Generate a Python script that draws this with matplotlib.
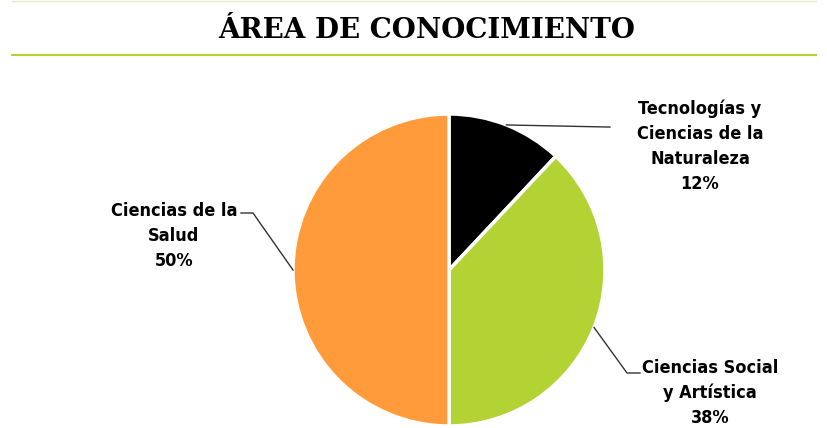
import matplotlib.pyplot as plt
import numpy as np

# datos
categorias = ['Tecnologías y\nCiencias de la\nNaturaleza', 'Ciencias Social\ny Artística', 'Ciencias de la\nSalud']
porcentajes = [12, 38, 50]
colores = ['#000000', '#b3d334', '#ff9b3b']

titulo = 'ÁREA DE CONOCIMIENTO'

fig = plt.figure(figsize=(8.28, 4.28), dpi=100)
ax = fig.add_axes([0, 0, 1, 1])

cx, cy, r = 449, 428 - 270, 156
wedges, _ = ax.pie(porcentajes, colors=colores, startangle=90, counterclock=False,
                   center=(cx, cy), radius=r,
                   wedgeprops=dict(edgecolor='white', linewidth=2.5))
ax.set_xlim(0, 828)
ax.set_ylim(0, 428)
ax.axis('off')

fuente = ['DejaVu Sans']

# posiciones de etiquetas (texto) y codo de la línea guía
etiquetas_xy = [(700, 428 - 146), (710, 428 - 393), (174, 428 - 236)]
codos = [(607, 428 - 127), (627, 428 - 373), (253, 428 - 213)]
finales = [(610, 428 - 127), (640, 428 - 373), (241, 428 - 213)]

for w, cat, p, txy, codo, fin in zip(wedges, categorias, porcentajes, etiquetas_xy, codos, finales):
    ang = np.deg2rad((w.theta1 + w.theta2) / 2)
    px, py = cx + r * np.cos(ang), cy + r * np.sin(ang)
    ax.plot([px, codo[0], fin[0]], [py, codo[1], fin[1]], color='#333333', lw=1)
    ax.text(txy[0], txy[1], f'{cat}\n{p}%', ha='center', va='center',
            fontsize=13, fontweight='bold', fontstretch='condensed',
            family=fuente, linespacing=1.5)

# título
fig.text(427 / 828, 1 - 31 / 428, titulo, ha='center', va='center',
         fontsize=20, fontweight='bold', family=['DejaVu Serif'])
fig.add_artist(plt.Line2D([12 / 828, 816 / 828], [1 - 55 / 428, 1 - 55 / 428],
                          color='#b3d334', lw=1.5))
fig.add_artist(plt.Line2D([12 / 828, 816 / 828], [1 - 1 / 428, 1 - 1 / 428],
                          color='#e4edc8', lw=1))

fig.savefig('out.png', dpi=100)
